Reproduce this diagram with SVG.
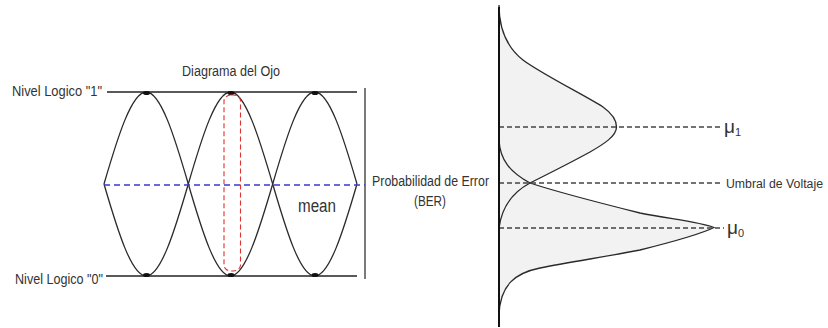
<svg xmlns="http://www.w3.org/2000/svg" width="828" height="328" viewBox="0 0 828 328">
<style>
text{font-family:"Liberation Sans",Arial,sans-serif;fill:#333}
.lbl{font-size:14px}
.ln{stroke:#222;stroke-width:1.4;fill:none}
.curve{stroke:#2a2a2a;stroke-width:1.3;fill:none}
.dash{stroke:#444;stroke-width:1.3;stroke-dasharray:5 3;fill:none}
.blue{stroke:#3838d0;stroke-width:1.5;stroke-dasharray:6 4;fill:none}
.red{stroke:#e03030;stroke-width:1.1;stroke-dasharray:5 3;fill:none}
.fillg{fill:#f2f2f2;stroke:none}
.blob{fill:#111}
.mu{font-size:19px}
</style>
<rect width="828" height="328" fill="#fff"/>
<g id="eye-diagram">
  <line class="ln" x1="107" y1="92" x2="357" y2="92"/>
  <line class="ln" x1="106" y1="276" x2="357" y2="276"/>
  <line class="ln" x1="365" y1="88" x2="365" y2="279" style="stroke-width:1.2"/>
  <path class="curve" d="M104,184 C117.7,137 131.6,92 146.2,92 C160.8,92 174.6,137 188.3,184 C202,231 215.9,276 230.5,276 C245.1,276 258.9,231 272.7,184 C286.4,137 300.2,92 314.8,92 C329.4,92 343.3,137 357,184"/>
  <path class="curve" d="M104,184 C117.7,231 131.6,276 146.2,276 C160.8,276 174.6,231 188.3,184 C202,137 215.9,92 230.5,92 C245.1,92 258.9,137 272.7,184 C286.4,231 300.2,276 314.8,276 C329.4,276 343.3,231 357,184"/>
  <ellipse class="blob" cx="146.5" cy="93" rx="3.5" ry="2"/>
  <ellipse class="blob" cx="231" cy="93" rx="3.5" ry="2"/>
  <ellipse class="blob" cx="315" cy="93" rx="3.5" ry="2"/>
  <ellipse class="blob" cx="146.5" cy="275" rx="3.5" ry="2"/>
  <ellipse class="blob" cx="231" cy="275" rx="3.5" ry="2"/>
  <ellipse class="blob" cx="315" cy="275" rx="3.5" ry="2"/>
  <rect class="red" x="224" y="95" width="16.5" height="176" rx="7" ry="6"/>
  <line class="blue" x1="104" y1="185" x2="365" y2="185"/>
</g>
<g id="labels-left">
  <text class="lbl" x="182" y="76" textLength="98" lengthAdjust="spacingAndGlyphs">Diagrama del Ojo</text>
  <text class="lbl" x="12" y="96" textLength="90" lengthAdjust="spacingAndGlyphs">Nivel Logico "1"</text>
  <text class="lbl" x="15" y="284" textLength="88" lengthAdjust="spacingAndGlyphs">Nivel Logico "0"</text>
  <text x="298" y="212" font-size="18" textLength="38" lengthAdjust="spacingAndGlyphs">mean</text>
  <text class="lbl" x="372" y="186" textLength="117" lengthAdjust="spacingAndGlyphs">Probabilidad de Error</text>
  <text class="lbl" x="414" y="206" textLength="32" lengthAdjust="spacingAndGlyphs">(BER)</text>
</g>
<g id="distributions">
  <path class="fillg" d="M499,5 C499,35 511,50.5 523,60 C540,73 586,96 603,107 C610,112 616.5,119 616.5,127 C616.5,136 604,144 590,152 C570,163 550,173 530,183 C515,191 502,205 499,228 Z"/>
  <path class="fillg" d="M499,140 C500,160 510,172 530,183 C560,193 600,203 640,213 C670,219 700,222 714,227.5 C705,232 680,240 640,250 C610,256 570,262 540,268 C515,273 500,285 499,315 Z"/>
  <path class="curve" d="M499,5 C499,35 511,50.5 523,60 C540,73 586,96 603,107 C610,112 616.5,119 616.5,127 C616.5,136 604,144 590,152 C570,163 550,173 530,183 C515,191 502,205 499,228"/>
  <path class="curve" d="M499,140 C500,160 510,172 530,183 C560,193 600,203 640,213 C670,219 700,222 714,227.5 C705,232 680,240 640,250 C610,256 570,262 540,268 C515,273 500,285 499,315"/>
</g>
<g id="connectors">
  <line class="dash" x1="499" y1="127" x2="721" y2="127"/>
  <line class="dash" x1="499" y1="183" x2="723" y2="183"/>
  <line class="dash" x1="499" y1="228" x2="724" y2="228"/>
  <line x1="499" y1="7" x2="499" y2="327" stroke="#111" stroke-width="2"/>
</g>
<g id="labels-right">
  <text class="mu" x="724" y="133">μ<tspan font-size="11" dy="3">1</tspan></text>
  <text x="726" y="187.5" font-size="12" textLength="97" lengthAdjust="spacingAndGlyphs">Umbral de Voltaje</text>
  <text class="mu" x="727" y="234">μ<tspan font-size="11" dy="3">0</tspan></text>
</g>
</svg>
